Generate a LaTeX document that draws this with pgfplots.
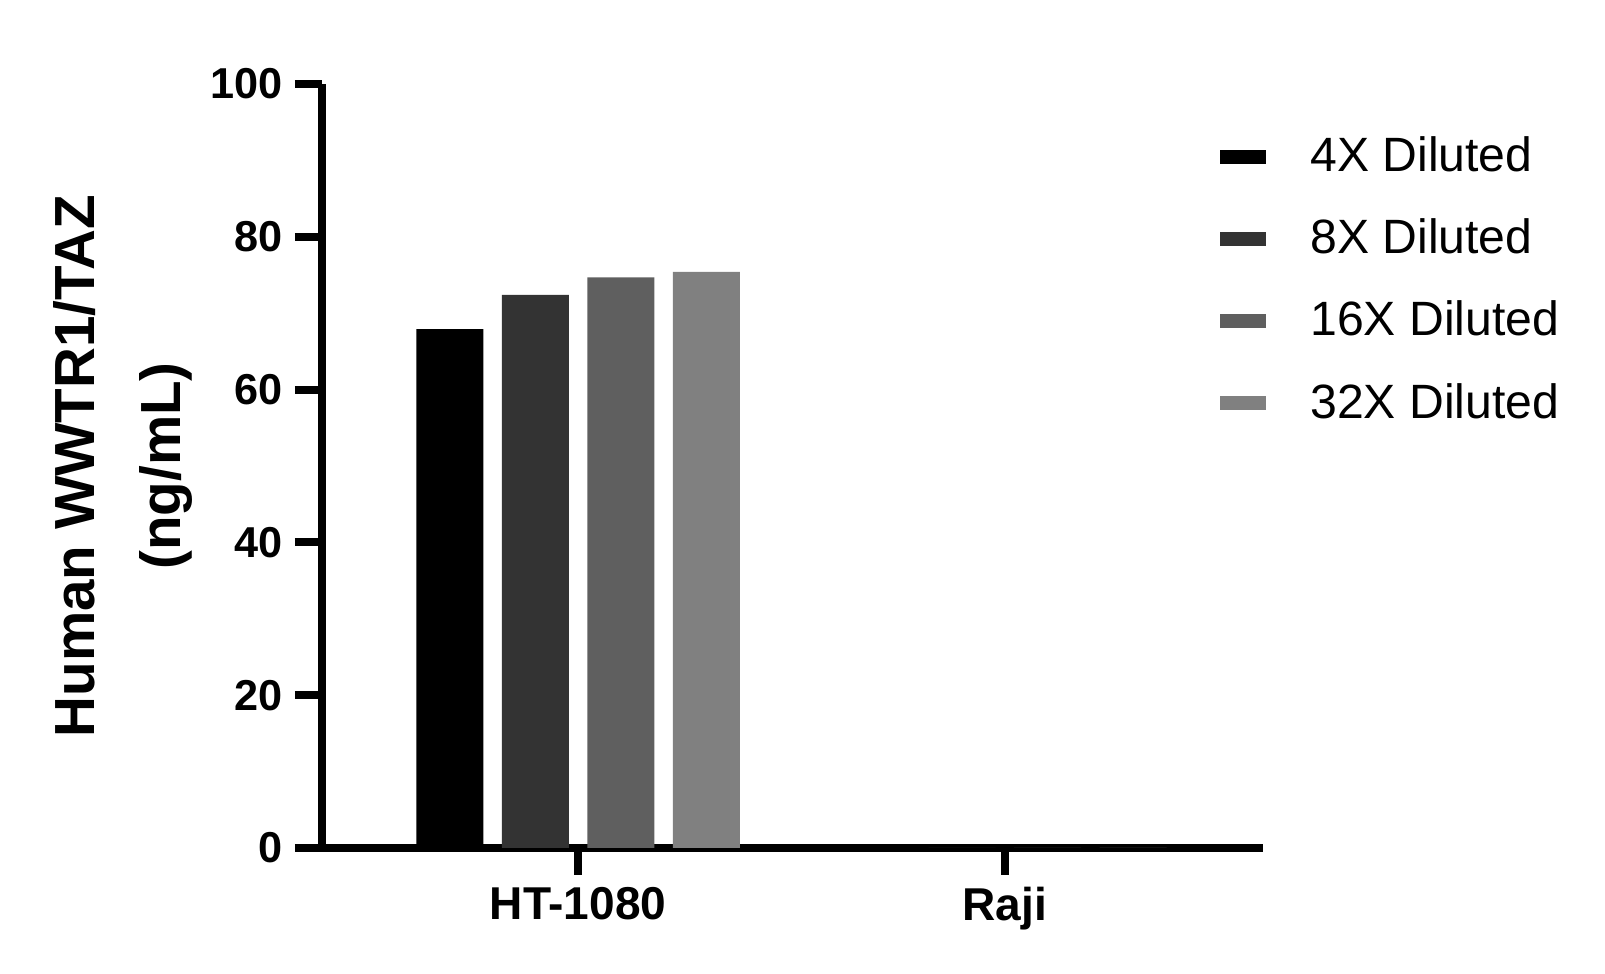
\documentclass[border=0pt]{standalone}
\usepackage{fontspec}
\setmainfont{Liberation Sans}
\usepackage{pgfplots}
\pgfplotsset{compat=1.18}
\definecolor{cFour}{HTML}{000000}
\definecolor{cEight}{HTML}{333333}
\definecolor{cSixteen}{HTML}{5F5F5F}
\definecolor{cThirtyTwo}{HTML}{808080}

\begin{document}
\begin{tikzpicture}
	\begin{axis}[
		scale only axis,
		width=9.41cm, height=7.64cm,
		ybar=0.185cm,
		bar width=0.67cm,
		xmin=-0.6, xmax=1.605,
		ymin=0, ymax=100,
		xtick={0,1},
		xticklabels={HT-1080, Raji},
		ytick={0,20,40,60,80,100},
		axis lines=left,
		axis line style={-, line width=2.3pt},
		tick style={line width=2.3pt, black},
		major tick length=0.27cm,
		tick align=outside,
		/pgf/number format/assume math mode=true,
		yticklabel style={font=\fontsize{12.3}{14}\selectfont\bfseries},
		xticklabel style={font=\fontsize{13.1}{15}\selectfont\bfseries},
		ylabel={Human WWTR1/TAZ\\(ng/mL)},
		ylabel style={at={(axis description cs:-0.124,0.5)}, anchor=south,
			align=center, font=\fontsize{16.1}{24.5}\selectfont\bfseries},
		legend image code/.code={
			\fill[#1] (0cm,-0.07cm) rectangle (0.46cm,0.07cm);
		},
		legend cell align=left,
		legend style={
			at={(rel axis cs:0.954,0.932)}, anchor=north west,
			draw=none, fill=none, inner sep=0pt,
			row sep=0.42cm,
			font=\fontsize{13.7}{15}\selectfont,
			nodes={inner sep=0pt},
			/tikz/every odd column/.append style={column sep=0.44cm}
		},
		]
		% HT-1080, Raji
		\addplot[fill=cFour, draw=none] coordinates {(0,67.9) (1,0)};
		\addlegendentry{4X Diluted}
		\addplot[fill=cEight, draw=none] coordinates {(0,72.4) (1,0)};
		\addlegendentry{8X Diluted}
		\addplot[fill=cSixteen, draw=none] coordinates {(0,74.7) (1,0)};
		\addlegendentry{16X Diluted}
		\addplot[fill=cThirtyTwo, draw=none] coordinates {(0,75.4) (1,0)};
		\addlegendentry{32X Diluted}
	\end{axis}
	\pgfresetboundingbox
	\path[use as bounding box] (-3.22cm,-1.26cm) rectangle (12.83cm,8.48cm);
\end{tikzpicture}
\end{document}
